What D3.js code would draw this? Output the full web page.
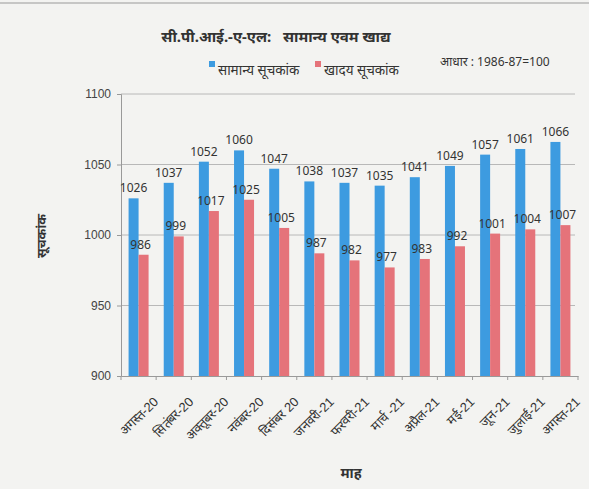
<!DOCTYPE html>
<html>
<head>
<meta charset="utf-8">
<script src="https://cdn.jsdelivr.net/npm/d3@7"></script>
<style>
  body { margin: 0; background: #f3f3f1; }
  svg { display: block; font-family: "Noto Sans", "DejaVu Sans", sans-serif; }
</style>
</head>
<body>
<svg id="chart" width="589" height="489"></svg>
<script>
// months on the x axis
const months = ["अगस्त-20", "सितंबर-20", "अक्तूबर-20", "नवंबर-20", "दिसंबर 20", "जनवरी-21",
  "फरवरी-21", "मार्च -21", "अप्रैल-21", "मई-21", "जून-21", "जुलाई-21", "अगस्त-21"];
const generalIndex = [1026, 1037, 1052, 1060, 1047, 1038, 1037, 1035, 1041, 1049, 1057, 1061, 1066];
const foodIndex = [986, 999, 1017, 1025, 1005, 987, 982, 977, 983, 992, 1001, 1004, 1007];
const yTicks = [900, 950, 1000, 1050, 1100];
const seriesNames = ["सामान्य सूचकांक", "खादय सूचकांक"];

const blue = "#3d9be0", red = "#e5737a";
const svg = d3.select("#chart");

// faint scan border at the top
svg.append("line").attr("x1", 0).attr("x2", 589).attr("y1", 3).attr("y2", 3)
  .attr("stroke", "#999").attr("stroke-width", 1);

const plotLeft = 121, plotRight = 578, plotTop = 94, plotBottom = 376;

const x = d3.scaleBand().domain(months).range([plotLeft, plotRight]);
const y = d3.scaleLinear().domain([900, 1100]).range([plotBottom, plotTop]);
const barW = 10;

// gridlines
svg.append("g").selectAll("line").data(yTicks.slice(1)).enter().append("line")
  .attr("x1", plotLeft).attr("x2", plotRight - 3)
  .attr("y1", d => y(d)).attr("y2", d => y(d))
  .attr("stroke", "#b8b8b8").attr("stroke-width", 1);

// y axis
const yAxis = svg.append("g").attr("transform", "translate(" + plotLeft + ",0)")
  .call(d3.axisLeft(y).tickValues(yTicks).tickFormat(d3.format("d")).tickSize(4).tickPadding(6));
yAxis.select(".domain").attr("stroke", "#999");
yAxis.selectAll(".tick line").attr("stroke", "#999");
yAxis.selectAll("text").attr("font-size", 12).attr("fill", "#444");

// x axis
const xAxis = svg.append("g").attr("transform", "translate(0," + plotBottom + ")")
  .call(d3.axisBottom(x).tickSize(0).tickPadding(0));
xAxis.select(".domain").attr("stroke", "#999");
xAxis.selectAll(".tick text")
  .attr("font-size", 13).attr("fill", "#333")
  .attr("text-anchor", "end")
  .attr("transform", "translate(14,20) rotate(-45)");
// tick marks on category boundaries
svg.append("g").selectAll("line").data(months.concat(["_end"])).enter().append("line")
  .attr("x1", (d, i) => plotLeft + i * x.step()).attr("x2", (d, i) => plotLeft + i * x.step())
  .attr("y1", plotBottom).attr("y2", plotBottom + 4)
  .attr("stroke", "#999");

// bars
const groups = svg.append("g").selectAll("g").data(months).enter().append("g");
groups.append("rect")
  .attr("x", d => x(d) + x.bandwidth() / 2 - barW)
  .attr("y", (d, i) => y(generalIndex[i]))
  .attr("width", barW)
  .attr("height", (d, i) => plotBottom - y(generalIndex[i]))
  .attr("fill", blue);
groups.append("rect")
  .attr("x", d => x(d) + x.bandwidth() / 2)
  .attr("y", (d, i) => y(foodIndex[i]))
  .attr("width", barW)
  .attr("height", (d, i) => plotBottom - y(foodIndex[i]))
  .attr("fill", red);

// value labels
groups.append("text")
  .attr("x", d => x(d) + x.bandwidth() / 2 - barW / 2)
  .attr("y", (d, i) => y(generalIndex[i]) - 6)
  .attr("text-anchor", "middle").attr("font-size", 12).attr("fill", "#333")
  .text((d, i) => generalIndex[i]);
groups.append("text")
  .attr("x", d => x(d) + x.bandwidth() / 2 + barW / 2 - 3)
  .attr("y", (d, i) => y(foodIndex[i]) - 6)
  .attr("text-anchor", "middle").attr("font-size", 12).attr("fill", "#333")
  .text((d, i) => foodIndex[i]);

// title
svg.append("text").attr("x", 276).attr("y", 42).attr("text-anchor", "middle")
  .attr("font-size", 15).attr("font-weight", "bold").attr("fill", "#333")
  .attr("xml:space", "preserve")
  .text("सी.पी.आई.-ए-एल:   सामान्य एवम खाद्य");

// legend
const legend = svg.append("g");
[[209, blue], [315, red]].forEach((p, i) => {
  legend.append("rect").attr("x", p[0]).attr("y", 61).attr("width", 6).attr("height", 6).attr("fill", p[1]);
  legend.append("text").attr("x", p[0] + 9).attr("y", 75).attr("font-size", 13.5).attr("fill", "#333")
    .text(seriesNames[i]);
});

svg.append("text").attr("x", 440).attr("y", 66).attr("font-size", 12).attr("fill", "#333")
  .text("आधार : 1986-87=100");

// axis titles
svg.append("text").attr("transform", "translate(46,236) rotate(-90)")
  .attr("text-anchor", "middle").attr("font-size", 13).attr("font-weight", "bold").attr("fill", "#333")
  .text("सूचकांक");
svg.append("text").attr("x", 351).attr("y", 478).attr("text-anchor", "middle")
  .attr("font-size", 14).attr("font-weight", "bold").attr("fill", "#333")
  .text("माह");
</script>
</body>
</html>
